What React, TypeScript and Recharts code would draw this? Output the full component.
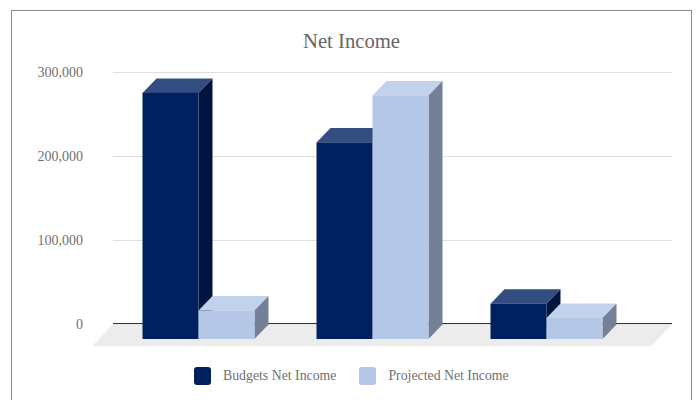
import { BarChart, Bar, XAxis, YAxis, CartesianGrid, Legend, ReferenceArea } from 'recharts'

const categories = ['Year 1', 'Year 2', 'Year 3']
const budgetsNetIncome = [293000, 234000, 42000]
const projectedNetIncome = [34000, 290000, 25000]
const yTicks = [0, 100000, 200000, 300000]

const data = categories.map((name, i) => ({
  name,
  budgets: budgetsNetIncome[i],
  projected: projectedNetIncome[i],
}))

// depth of the extruded bars, in px
const DEPTH_X = 14
const DEPTH_Y = 14.5

const TEXT = '#707070'
const SERIF = '"Liberation Serif", "Times New Roman", serif'

const darkFaces = { front: '#00205f', top: '#324d80', side: '#001540' }
const lightFaces = { front: '#b4c7e7', top: '#c3d2ec', side: '#738098' }

type Faces = typeof darkFaces

// Back edge of the bar sits on the scale, front face is pushed forward by the depth
function extrudedBar(faces: Faces) {
  return function ExtrudedBar(props: any) {
    const { x, y, width, height } = props
    const left = x
    const right = x + width
    const top = y + DEPTH_Y
    const bottom = y + height + DEPTH_Y
    return (
      <g>
        <polygon
          points={`${left},${top} ${left + DEPTH_X},${y} ${right + DEPTH_X},${y} ${right},${top}`}
          fill={faces.top}
        />
        <polygon
          points={`${right},${top} ${right + DEPTH_X},${y} ${right + DEPTH_X},${bottom - DEPTH_Y} ${right},${bottom}`}
          fill={faces.side}
        />
        <rect x={left} y={top} width={width} height={height} fill={faces.front} />
      </g>
    )
  }
}

// Grey floor and the zero line behind the bars; the area only spans the padded
// band range, so widen it
function Floor(props: any) {
  const { x, y, width, height } = props
  const slant = 21
  const x0 = x + 1.5
  const x1 = x + width + 38.5
  return (
    <g>
      <polygon
        points={`${x0},${y} ${x1},${y} ${x1 - slant},${y + height} ${x0 - slant},${y + height}`}
        fill="#ececec"
      />
      <line x1={x0} x2={x1} y1={y - 1} y2={y - 1} stroke="#333333" />
    </g>
  )
}

function LegendRow({ payload }: any) {
  return (
    <div style={{ display: 'flex', fontFamily: SERIF, fontSize: 13.8, color: TEXT, height: 20, alignItems: 'center' }}>
      {(payload || []).map((entry: any, i: number) => (
        <div key={entry.value} style={{ display: 'flex', alignItems: 'center', marginLeft: i === 0 ? 194 : 23 }}>
          <span
            style={{
              width: 17,
              height: 18,
              borderRadius: 3,
              background: entry.color,
              marginRight: 12,
              display: 'inline-block',
            }}
          />
          {entry.value}
        </div>
      ))}
    </div>
  )
}

export default function App() {
  return (
    <div style={{ position: 'absolute', left: 0, top: 0, width: 699, height: 400, overflow: 'hidden', background: '#fff' }}>
      {/* outer frame, its bottom edge runs past the page */}
      <div
        style={{
          position: 'absolute',
          left: 11,
          top: 10,
          width: 681,
          height: 420,
          border: '1px solid #8c8c8c',
          boxSizing: 'border-box',
        }}
      />
      <div
        style={{
          position: 'absolute',
          left: 0,
          width: 703,
          top: 30,
          textAlign: 'center',
          fontFamily: SERIF,
          fontSize: 20.7,
          color: '#666666',
        }}
      >
        Net Income
      </div>
      <div style={{ position: 'absolute', left: 0, top: 0 }}>
        <BarChart
          width={699}
          height={400}
          data={data}
          margin={{ top: 72.5, right: 27, left: 0, bottom: 55.5 }}
          barCategoryGap={31}
          barGap={0}
        >
          <CartesianGrid vertical={false} stroke="#dedede" />
          <ReferenceArea y1={0} y2={-26000} ifOverflow="visible" shape={<Floor />} />
          <XAxis
            dataKey="name"
            height={0}
            tick={false}
            tickLine={false}
            axisLine={false}
            padding={{ left: -1.5, right: 38.5 }}
          />
          <YAxis
            width={113}
            domain={[0, 300000]}
            ticks={yTicks}
            axisLine={false}
            tickLine={false}
            tickSize={0}
            tickMargin={30}
            tickFormatter={(v: number) => v.toLocaleString('en-US')}
            tick={{ fill: TEXT, fontSize: 14, fontFamily: SERIF }}
          />
          <Legend content={<LegendRow />} wrapperStyle={{ top: 366, left: 0, width: 699 }} />
          <Bar
            dataKey="budgets"
            name="Budgets Net Income"
            fill={darkFaces.front}
            shape={extrudedBar(darkFaces)}
            isAnimationActive={false}
          />
          <Bar
            dataKey="projected"
            name="Projected Net Income"
            fill={lightFaces.front}
            shape={extrudedBar(lightFaces)}
            isAnimationActive={false}
          />
        </BarChart>
      </div>
    </div>
  )
}
